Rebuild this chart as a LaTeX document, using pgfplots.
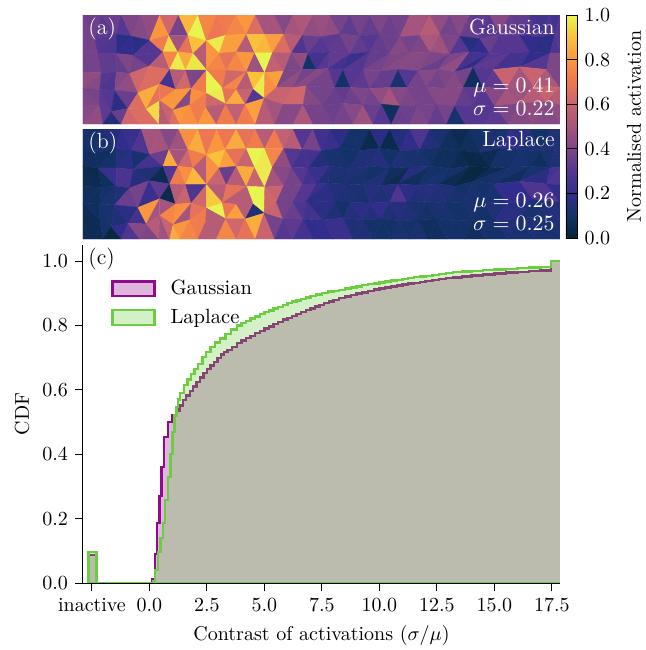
\documentclass[border=0pt]{standalone}
\usepackage{pgfplots}
\usepackage{pgfplotstable}
\pgfplotsset{compat=1.18}
\pgfplotsset{colormap={thermal}{
rgb255=(4,35,50) rgb255=(20,50,105) rgb255=(50,45,140) rgb255=(85,55,145) rgb255=(125,70,135) rgb255=(165,85,125) rgb255=(200,100,112) rgb255=(238,118,82) rgb255=(250,150,62) rgb255=(250,192,60) rgb255=(232,245,80)}}
\definecolor{gcol}{RGB}{146,10,140}
\definecolor{lcol}{RGB}{108,205,66}
\tikzset{ann/.style={white,inner sep=0pt,font=\fontsize{11}{13}\selectfont}}
\pgfplotstableread{
x y
10 14
65 14
125 14
185 14
240 14
297 14
355 14
412 14
470 14
527 14
585 14
640 14
700 14
750 14
810 14
870 14
930 14
990 14
1050 14
1110 14
1170 14
1230 14
1290 14
1350 14
1410 14
1440 14
10 75
45 85
110 72
155 78
210 90
268 75
325 75
380 92
437 75
500 72
555 72
612 72
668 75
725 80
780 70
840 78
900 72
960 80
1020 75
1080 70
1140 78
1200 85
1260 72
1320 75
1380 80
1425 72
1440 75
10 125
55 130
110 130
160 135
250 125
295 125
340 130
418 130
470 125
525 128
578 128
635 128
685 130
750 125
810 132
870 125
930 130
990 128
1050 125
1110 132
1170 125
1230 130
1290 128
1350 125
1410 130
1440 128
10 185
65 188
110 185
150 190
208 168
270 178
318 180
380 180
440 180
500 185
555 187
612 183
668 178
710 178
745 175
790 178
850 180
905 182
955 178
1015 182
1075 178
1125 185
1180 170
1240 178
1320 170
1400 178
1440 180
10 235
60 238
105 240
175 248
240 222
288 238
335 235
380 250
428 235
470 238
520 238
590 232
640 232
680 228
765 232
812 232
870 235
930 232
982 232
1040 230
1095 235
1150 232
1210 232
1280 235
1360 225
1440 232
10 285
60 285
95 305
145 295
200 297
240 272
280 300
330 285
378 290
438 282
497 282
553 265
610 283
670 283
730 285
790 280
850 285
905 282
960 288
1015 285
1070 282
1125 288
1180 285
1245 288
1320 280
1400 275
1440 285
10 342
70 342
125 342
180 342
238 342
270 342
300 342
355 342
410 342
470 342
527 342
585 342
640 342
700 342
760 342
820 342
880 342
935 342
990 342
1045 342
1100 342
1155 342
1215 342
1285 342
1360 342
1440 342
}\verts
\begin{document}
\begin{tikzpicture}
\path[use as bounding box] (0,0) rectangle (323pt,325pt);
\begin{axis}[at={(41.5pt,263pt)},anchor=south west,scale only axis,width=238.5pt,height=54.5pt,
 xmin=10,xmax=1440,ymin=14,ymax=342,y dir=reverse,hide axis,colormap name=thermal,point meta min=0,point meta max=1,
 colorbar,colorbar shift/.style={xshift=3pt},colorbar style={at={(parent axis.north east)},anchor=north west,width=5.8pt,height=111.5pt,
  ytick={0,0.2,0.4,0.6,0.8,1},yticklabel style={/pgf/number format/fixed,/pgf/number format/fixed zerofill,/pgf/number format/precision=1},
  ylabel={Normalised activation},ylabel style={at={(axis description cs:5.86,0.5)},anchor=center,rotate=0},major tick length=4pt,tick style={black,line width=0.5pt}}]
\addplot[patch,patch type=triangle,table/row sep=\\,shader=faceted,faceted color=mapped color,line width=0.2pt,patch table with point meta={
26 27 0 .38\\0 1 27 .36\\27 28 1 .32\\1 2 28 .35\\28 29 2 .30\\2 3 29 .40\\29 30 3 .42\\3 4 30 .45\\30 31 4 .80\\4 5 31 .62\\31 32 5 .38\\5 6 32 .88\\32 33 6 1.0\\6 7 33 .75\\33 34 7 .70\\7 8 34 .72\\34 35 8 .75\\8 9 35 .80\\35 36 9 .65\\9 10 36 .50\\36 37 10 .50\\10 11 37 .42\\37 38 11 .50\\11 12 38 .52\\38 39 12 .45\\12 13 39 .47\\39 40 13 .45\\13 14 40 .38\\40 41 14 .33\\14 15 41 .38\\41 42 15 .34\\15 16 42 .40\\42 43 16 .36\\16 17 43 .38\\43 44 17 .50\\17 18 44 .50\\44 45 18 .55\\18 19 45 .45\\45 46 19 .38\\19 20 46 .42\\46 47 20 .35\\20 21 47 .32\\47 48 21 .30\\21 22 48 .42\\48 49 22 .35\\22 23 49 .33\\49 50 23 .30\\23 24 50 .25\\50 51 24 .28\\24 25 51 .25\\51 52 25 .30\\
26 27 53 .38\\53 54 27 .38\\27 28 54 .30\\54 55 28 .28\\28 29 55 .18\\55 56 29 .20\\29 30 56 .18\\56 57 30 .30\\30 31 57 .72\\57 58 31 .95\\31 32 58 .50\\58 59 32 .68\\32 33 59 .90\\59 33 86 .55\\33 34 60 .98\\60 61 34 .82\\34 35 61 .82\\61 62 35 .55\\35 36 62 .90\\62 63 36 .88\\36 37 63 .82\\63 64 37 .65\\37 38 64 .55\\64 65 38 .28\\38 39 65 .35\\65 66 39 .30\\39 40 66 .32\\66 67 40 .33\\40 41 67 .38\\67 68 41 .33\\41 42 68 .30\\68 69 42 .34\\42 43 69 .36\\69 70 43 .42\\43 44 70 .38\\70 71 44 .40\\44 45 71 .52\\71 72 45 .48\\45 46 72 .40\\72 73 46 .30\\46 47 73 .16\\73 74 47 .20\\47 48 74 .35\\74 75 48 .30\\48 49 75 .30\\75 76 49 .30\\49 50 76 .20\\76 77 50 .18\\50 51 77 .18\\77 78 51 .28\\51 52 78 .30\\
79 80 53 .38\\53 54 80 .38\\80 81 54 .33\\54 55 81 .33\\81 82 55 .34\\55 56 82 .40\\82 83 56 .38\\56 57 83 .30\\83 84 57 .55\\57 58 84 .75\\84 85 58 .98\\58 59 85 .85\\85 86 59 .97\\60 33 86 .80\\86 87 60 .75\\60 61 87 .68\\87 88 61 .75\\61 62 88 .80\\88 89 62 .48\\62 63 89 1.0\\89 90 63 .58\\63 64 90 .55\\90 91 64 .40\\64 65 91 .45\\91 92 65 .10\\65 66 92 .25\\92 93 66 .30\\66 67 93 .33\\93 94 67 .25\\67 68 94 .22\\94 95 68 .30\\68 69 95 .34\\95 96 69 .38\\69 70 96 .40\\96 97 70 .42\\70 71 97 .43\\97 98 71 .42\\71 72 98 .40\\98 99 72 .35\\72 73 99 .40\\99 100 73 .45\\73 74 100 .25\\100 101 74 .18\\74 75 101 .30\\101 102 75 .32\\75 76 102 .25\\102 103 76 .25\\76 77 103 .20\\103 104 77 .30\\77 78 104 .40\\104 105 78 .40\\
79 80 106 .45\\106 107 80 .42\\80 81 107 .30\\107 108 81 .28\\81 82 108 .42\\108 109 82 .45\\82 83 109 .62\\109 110 83 .65\\83 84 110 .65\\110 111 84 .25\\84 85 111 .55\\111 112 85 .62\\85 86 112 .40\\112 113 86 .72\\86 87 114 .72\\113 114 86 1.0\\87 88 114 .62\\114 115 88 .75\\88 89 116 .90\\115 116 88 .55\\89 90 117 .82\\89 116 143 .98\\90 91 117 .40\\117 118 91 .45\\91 92 118 .38\\118 119 92 .42\\92 93 119 .42\\119 120 93 .38\\93 94 120 .30\\120 121 94 .10\\94 95 121 .30\\121 122 95 .32\\95 96 122 .38\\122 123 96 .34\\96 97 123 .34\\123 124 97 .12\\97 98 124 .30\\124 125 98 .38\\98 99 125 .42\\125 126 99 .38\\99 100 126 .40\\126 127 100 .42\\100 101 127 .38\\127 128 101 .08\\101 102 128 .30\\128 129 102 .32\\102 103 129 .60\\129 130 103 .50\\103 104 130 .60\\130 131 104 .52\\104 105 131 .40\\
132 133 106 .40\\106 107 133 .38\\133 134 107 .32\\107 108 134 .30\\134 135 108 .18\\108 109 135 .35\\135 136 109 .65\\109 110 136 .85\\136 137 110 .68\\110 111 137 .70\\137 138 111 .80\\111 112 138 .80\\138 139 112 .42\\112 113 139 .78\\139 140 113 .72\\113 114 141 .98\\140 141 113 .62\\114 115 141 .68\\141 142 115 .85\\115 116 142 .60\\142 143 116 .30\\89 117 143 .78\\143 144 117 .60\\117 118 144 .60\\144 145 118 .62\\118 119 145 .62\\145 146 119 .42\\119 120 146 .38\\146 147 120 .35\\120 121 147 .33\\147 148 121 .36\\121 122 148 .40\\148 149 122 .38\\122 123 149 .45\\149 150 123 .50\\123 124 150 .42\\150 151 124 .40\\124 125 151 .38\\151 152 125 .38\\125 126 152 .42\\152 153 126 .42\\126 127 153 .42\\153 154 127 .34\\127 128 154 .32\\154 155 128 .30\\128 129 155 .42\\155 156 129 .50\\129 130 156 .48\\156 157 130 .55\\130 131 157 .60\\157 158 131 .55\\
132 133 159 .42\\159 160 133 .45\\133 134 160 .32\\160 161 134 .15\\134 135 161 .35\\161 162 135 .62\\135 136 162 .65\\162 163 136 .65\\136 137 163 .95\\163 164 137 .55\\137 138 164 .60\\164 165 138 .65\\138 139 165 .80\\165 166 139 .78\\139 140 166 .72\\166 167 140 .80\\140 141 167 .55\\167 168 141 .72\\141 142 168 .58\\168 169 142 .72\\142 143 169 .82\\169 170 143 .55\\143 144 170 .50\\170 171 144 .42\\144 145 171 .42\\171 172 145 .52\\145 146 172 .38\\172 173 146 .38\\146 147 173 .36\\173 174 147 .38\\147 148 174 .42\\174 175 148 .48\\148 149 175 .35\\175 176 149 .30\\149 150 176 .08\\176 177 150 .35\\150 151 177 .36\\177 178 151 .40\\151 152 178 .38\\178 179 152 .34\\152 153 179 .38\\179 180 153 .12\\153 154 180 .30\\180 181 154 .30\\154 155 181 .30\\181 182 155 .32\\155 156 182 .40\\182 183 156 .42\\156 157 183 .45\\183 184 157 .42\\157 158 184 .45\\
}] table {\verts};
\node[ann,anchor=west] at (axis description cs:0.0105,0.87) {(a)};
\node[ann,anchor=east] at (axis description cs:0.9895,0.89) {Gaussian};
\node[ann,anchor=east] at (axis description cs:0.9895,0.33) {$\mu=0.41$};
\node[ann,anchor=east] at (axis description cs:0.9895,0.147) {$\sigma=0.22$};
\end{axis}
\begin{axis}[at={(41.5pt,205.5pt)},anchor=south west,scale only axis,width=238.5pt,height=55pt,
 xmin=10,xmax=1440,ymin=14,ymax=342,y dir=reverse,hide axis,colormap name=thermal,point meta min=0,point meta max=1]
\addplot[patch,patch type=triangle,table/row sep=\\,shader=faceted,faceted color=mapped color,line width=0.2pt,patch table with point meta={
26 27 0 .10\\0 1 27 .10\\27 28 1 .12\\1 2 28 .15\\28 29 2 .20\\2 3 29 .22\\29 30 3 .28\\3 4 30 .50\\30 31 4 .50\\4 5 31 .42\\31 32 5 .48\\5 6 32 .78\\32 33 6 .85\\6 7 33 .70\\33 34 7 .80\\7 8 34 .70\\34 35 8 .85\\8 9 35 .68\\35 36 9 .72\\9 10 36 .55\\36 37 10 .72\\10 11 37 .58\\37 38 11 .55\\11 12 38 .30\\38 39 12 .38\\12 13 39 .24\\39 40 13 .22\\13 14 40 .18\\40 41 14 .10\\14 15 41 .10\\41 42 15 .05\\15 16 42 .18\\42 43 16 .05\\16 17 43 .15\\43 44 17 .20\\17 18 44 .28\\44 45 18 .15\\18 19 45 .12\\45 46 19 .08\\19 20 46 .06\\46 47 20 .08\\20 21 47 .10\\47 48 21 .14\\21 22 48 .12\\48 49 22 .20\\22 23 49 .18\\49 50 23 .14\\23 24 50 .10\\50 51 24 .14\\24 25 51 .14\\51 52 25 .14\\
26 27 53 .08\\53 54 27 .08\\27 28 54 .08\\54 55 28 .10\\28 29 55 .16\\55 56 29 .18\\29 30 56 .12\\56 57 30 .25\\30 31 57 .35\\57 58 31 .85\\31 32 58 .50\\58 59 32 .62\\32 33 59 .72\\59 33 86 .55\\33 34 60 .90\\60 61 34 .82\\34 35 61 .68\\61 62 35 .60\\35 36 62 1.0\\62 63 36 .98\\36 37 63 .75\\63 64 37 .45\\37 38 64 .30\\64 65 38 .25\\38 39 65 .25\\65 66 39 .15\\39 40 66 .12\\66 67 40 .12\\40 41 67 .10\\67 68 41 .14\\41 42 68 .14\\68 69 42 .16\\42 43 69 .10\\69 70 43 .14\\43 44 70 .12\\70 71 44 .12\\44 45 71 .10\\71 72 45 .08\\45 46 72 .08\\72 73 46 .06\\46 47 73 .04\\73 74 47 .04\\47 48 74 .06\\74 75 48 .10\\48 49 75 .10\\75 76 49 .12\\49 50 76 .10\\76 77 50 .08\\50 51 77 .12\\77 78 51 .14\\51 52 78 .14\\
79 80 53 .06\\53 54 80 .05\\80 81 54 .08\\54 55 81 .22\\81 82 55 .27\\55 56 82 .27\\82 83 56 .16\\56 57 83 .14\\83 84 57 .06\\57 58 84 .30\\84 85 58 .72\\58 59 85 .78\\85 86 59 .88\\60 33 86 .78\\86 87 60 .60\\60 61 87 .35\\87 88 61 .55\\61 62 88 .85\\88 89 62 .60\\62 63 89 .98\\89 90 63 .50\\63 64 90 .42\\90 91 64 .38\\64 65 91 .30\\91 92 65 .25\\65 66 92 .22\\92 93 66 .15\\66 67 93 .14\\93 94 67 .12\\67 68 94 .14\\94 95 68 .12\\68 69 95 .10\\95 96 69 .14\\69 70 96 .08\\96 97 70 .06\\70 71 97 .16\\97 98 71 .08\\71 72 98 .10\\98 99 72 .12\\72 73 99 .10\\99 100 73 .06\\73 74 100 .03\\100 101 74 .03\\74 75 101 .06\\101 102 75 .10\\75 76 102 .12\\102 103 76 .08\\76 77 103 .12\\103 104 77 .18\\77 78 104 .25\\104 105 78 .28\\
79 80 106 .08\\106 107 80 .08\\80 81 107 .10\\107 108 81 .12\\81 82 108 .14\\108 109 82 .35\\82 83 109 .38\\109 110 83 .22\\83 84 110 .32\\110 111 84 .05\\84 85 111 .55\\111 112 85 .60\\85 86 112 .28\\112 113 86 .62\\86 87 114 .55\\113 114 86 .92\\87 88 114 .68\\114 115 88 .55\\88 89 116 1.0\\115 116 88 .55\\89 90 117 .60\\89 116 143 1.0\\90 91 117 .38\\117 118 91 .38\\91 92 118 .30\\118 119 92 .30\\92 93 119 .22\\119 120 93 .18\\93 94 120 .15\\120 121 94 .14\\94 95 121 .13\\121 122 95 .12\\95 96 122 .16\\122 123 96 .14\\96 97 123 .16\\123 124 97 .28\\97 98 124 .18\\124 125 98 .15\\98 99 125 .16\\125 126 99 .14\\99 100 126 .14\\126 127 100 .12\\100 101 127 .10\\127 128 101 .12\\101 102 128 .10\\128 129 102 .12\\102 103 129 .20\\129 130 103 .20\\103 104 130 .28\\130 131 104 .28\\104 105 131 .20\\
132 133 106 .06\\106 107 133 .08\\133 134 107 .10\\107 108 134 .12\\134 135 108 .14\\108 109 135 .18\\135 136 109 .25\\109 110 136 .80\\136 137 110 .50\\110 111 137 .50\\137 138 111 .75\\111 112 138 .78\\138 139 112 .50\\112 113 139 .68\\139 140 113 .72\\113 114 141 1.0\\140 141 113 .55\\114 115 141 .70\\141 142 115 .82\\115 116 142 .55\\142 143 116 .14\\89 117 143 .62\\143 144 117 .60\\117 118 144 .38\\144 145 118 .35\\118 119 145 .28\\145 146 119 .25\\119 120 146 .18\\146 147 120 .14\\120 121 147 .10\\147 148 121 .16\\121 122 148 .18\\148 149 122 .16\\122 123 149 .20\\149 150 123 .14\\123 124 150 .16\\150 151 124 .14\\124 125 151 .12\\151 152 125 .10\\125 126 152 .12\\152 153 126 .12\\126 127 153 .10\\153 154 127 .10\\127 128 154 .12\\154 155 128 .10\\128 129 155 .14\\155 156 129 .18\\129 130 156 .16\\156 157 130 .12\\130 131 157 .14\\157 158 131 .16\\
132 133 159 .06\\159 160 133 .06\\133 134 160 .10\\160 161 134 .03\\134 135 161 .20\\161 162 135 .28\\135 136 162 .42\\162 163 136 .40\\136 137 163 .55\\163 164 137 .48\\137 138 164 .60\\164 165 138 .85\\138 139 165 .80\\165 166 139 .75\\139 140 166 .72\\166 167 140 .55\\140 141 167 .55\\167 168 141 .75\\141 142 168 .62\\168 169 142 .68\\142 143 169 .85\\169 170 143 .60\\143 144 170 .38\\170 171 144 .30\\144 145 171 .32\\171 172 145 .25\\145 146 172 .20\\172 173 146 .20\\146 147 173 .22\\173 174 147 .22\\147 148 174 .14\\174 175 148 .14\\148 149 175 .10\\175 176 149 .10\\149 150 176 .10\\176 177 150 .12\\150 151 177 .10\\177 178 151 .12\\151 152 178 .08\\178 179 152 .08\\152 153 179 .10\\179 180 153 .10\\153 154 180 .10\\180 181 154 .08\\154 155 181 .12\\181 182 155 .10\\155 156 182 .14\\182 183 156 .12\\156 157 183 .14\\183 184 157 .12\\157 158 184 .14\\
}] table {\verts};
\node[ann,anchor=west] at (axis description cs:0.0105,0.87) {(b)};
\node[ann,anchor=east] at (axis description cs:0.9895,0.89) {Laplace};
\node[ann,anchor=east] at (axis description cs:0.9895,0.327) {$\mu=0.26$};
\node[ann,anchor=east] at (axis description cs:0.9895,0.145) {$\sigma=0.25$};
\end{axis}
\begin{axis}[at={(41.5pt,33.5pt)},anchor=south west,scale only axis,width=238.5pt,height=169pt,axis on top,
 xmin=-2.89,xmax=17.85,ymin=0,ymax=1.05,axis lines*=left,tick align=outside,major tick length=4pt,
 tick style={black,line width=0.5pt},axis line style={line width=0.5pt},
 xtick={-2.5,0,2.5,5,7.5,10,12.5,15,17.5},xticklabels={inactive,0.0,2.5,5.0,7.5,10.0,12.5,15.0,17.5},
 ytick={0,0.2,0.4,0.6,0.8,1},yticklabel style={/pgf/number format/fixed,/pgf/number format/fixed zerofill,/pgf/number format/precision=1},
 xlabel={Contrast of activations ($\sigma/\mu$)},ylabel={CDF},
 xlabel style={at={(axis description cs:0.5,-0.154)},anchor=center},
 ylabel style={at={(axis description cs:-0.128,0.5)},anchor=center},
 legend style={at={(axis description cs:0.0455,0.921)},anchor=north west,draw=none,fill=none,row sep=1.6pt,
  font=\fontsize{10.3}{12}\selectfont,nodes={anchor=west},/tikz/every odd column/.append style={column sep=5.5pt}},
 legend cell align=left,
 legend image code/.code={\draw[#1,sharp plot] (0pt,-3.7pt) rectangle (21pt,3.7pt);}]
\addplot[const plot,draw=gcol,line width=1.2pt,fill=gcol,fill opacity=0.3,draw opacity=1] table {
x y
-2.65 0.087
-2.3 0
0.1 0.012
0.24 0.09
0.34 0.186
0.43 0.27
0.52 0.36
0.63 0.453
0.80 0.50
0.98 0.52
1.15 0.535
1.3 0.552
1.45 0.568
1.6 0.583
1.75 0.597
1.9 0.61
2.05 0.625
2.2 0.639
2.35 0.652
2.5 0.664
2.65 0.676
2.8 0.687
2.95 0.699
3.1 0.71
3.25 0.717
3.4 0.724
3.6 0.734
3.8 0.745
4.0 0.753
4.2 0.761
4.4 0.768
4.6 0.776
4.8 0.783
5.0 0.79
5.2 0.797
5.4 0.804
5.6 0.811
5.8 0.818
6.0 0.824
6.2 0.83
6.4 0.836
6.6 0.842
6.8 0.848
7.0 0.853
7.2 0.859
7.4 0.864
7.6 0.869
7.8 0.874
8.0 0.879
8.25 0.885
8.5 0.89
8.75 0.895
9 0.899
9.25 0.903
9.5 0.908
9.75 0.912
10 0.915
10.25 0.918
10.5 0.921
10.75 0.924
11 0.927
11.25 0.93
11.5 0.932
11.75 0.935
12 0.938
12.3 0.941
12.6 0.944
12.9 0.947
13.2 0.949
13.6 0.952
14 0.955
14.5 0.958
15 0.961
15.5 0.964
16 0.967
16.5 0.969
17 0.971
17.45 1.0
18 1.0
} \closedcycle;
\addlegendentry{Gaussian}
\addplot[const plot,draw=lcol,line width=1.2pt,fill=lcol,fill opacity=0.3,draw opacity=1] table {
x y
-2.65 0.097
-2.3 0
0.15 0.005
0.24 0.04
0.37 0.097
0.48 0.14
0.58 0.186
0.68 0.258
0.80 0.33
0.92 0.40
1.0 0.47
1.09 0.52
1.17 0.547
1.25 0.57
1.33 0.59
1.5 0.615
1.65 0.632
1.8 0.65
1.95 0.664
2.1 0.68
2.3 0.703
2.45 0.717
2.65 0.734
2.85 0.747
3.07 0.76
3.3 0.773
3.55 0.787
3.8 0.80
4.0 0.807
4.2 0.814
4.4 0.822
4.6 0.828
4.8 0.835
5.0 0.841
5.2 0.847
5.4 0.853
5.6 0.858
5.8 0.864
6 0.869
6.2 0.874
6.4 0.878
6.6 0.882
6.8 0.887
7 0.891
7.25 0.896
7.5 0.90
7.75 0.905
8 0.908
8.25 0.911
8.5 0.915
8.75 0.918
9 0.921
9.25 0.925
9.5 0.928
9.75 0.931
10 0.934
10.25 0.937
10.5 0.94
10.75 0.942
11 0.945
11.25 0.947
11.5 0.95
11.75 0.952
12 0.954
12.3 0.957
12.6 0.96
12.9 0.963
13.2 0.966
13.6 0.968
14 0.97
14.5 0.972
15 0.974
15.5 0.976
16 0.978
16.5 0.98
17 0.981
17.45 1.0
18 1.0
} \closedcycle;
\addlegendentry{Laplace}
\node[anchor=west,inner sep=0pt,font=\fontsize{11}{13}\selectfont] at (axis description cs:0.0105,0.958) {(c)};
\end{axis}
\end{tikzpicture}
\end{document}
